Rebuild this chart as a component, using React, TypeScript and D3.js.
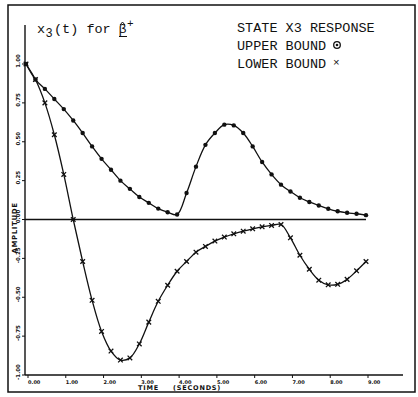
import React from 'react';
import * as d3 from 'd3';

// time steps (seconds) and the two bound responses
const times = d3.range(0, 9.001, 0.25);
const upperBound = [
	1.0, 0.9, 0.84, 0.775, 0.71, 0.637, 0.556, 0.47, 0.39, 0.32, 0.25, 0.197, 0.145,
	0.107, 0.07, 0.047, 0.032, 0.17, 0.34, 0.48, 0.556, 0.61, 0.605, 0.556, 0.47,
	0.37, 0.29, 0.224, 0.18, 0.14, 0.113, 0.09, 0.069, 0.053, 0.043, 0.037, 0.028
];
const lowerBound = [
	1.0, 0.9, 0.75, 0.545, 0.29, 0.0, -0.27, -0.52, -0.72, -0.846, -0.904, -0.89,
	-0.8, -0.66, -0.526, -0.423, -0.333, -0.27, -0.21, -0.173, -0.139, -0.113,
	-0.092, -0.075, -0.06, -0.047, -0.038, -0.032, -0.118, -0.23, -0.32, -0.39,
	-0.42, -0.417, -0.385, -0.33, -0.27
];
const xTicks = [0, 1, 2, 3, 4, 5, 6, 7, 8, 9];
const yTicks = [1, 0.75, 0.5, 0.25, 0, -0.25, -0.5, -0.75, -1];
const legendLines = ['STATE X3 RESPONSE', 'UPPER BOUND', 'LOWER BOUND'];

const W = 418;
const H = 397;
const mono = '"Liberation Mono", "DejaVu Sans Mono", monospace';
const tiny = '"DejaVu Sans", sans-serif';

const App = () => {
	const x = d3.scaleLinear().domain([0, 9]).range([26, 366]);
	const y = d3.scaleLinear().domain([-1, 1]).range([375, 64]);
	const line = d3.line<number>()
		.x((d, i) => x(times[i]))
		.y((d) => y(d))
		.curve(d3.curveCatmullRom.alpha(0.5));

	return (
		<svg width={ W } height={ H } style={ { position: 'absolute', left: 0, top: 0, background: '#fff' } }>
			<rect x={ 8 } y={ 5 } width={ 407 } height={ 387 } fill="none" stroke="#111" strokeWidth={ 1.5 }/>

			{/* axes */}
			<line x1={ 25 } x2={ 25 } y1={ 25 } y2={ 375 } stroke="#111" strokeWidth={ 1.4 }/>
			<line x1={ 25 } x2={ 403 } y1={ 375 } y2={ 375 } stroke="#111" strokeWidth={ 1.4 }/>
			<line x1={ 25 } x2={ x(9) } y1={ y(0) } y2={ y(0) } stroke="#111" strokeWidth={ 1.4 }/>

			{ xTicks.map((t) => (
				<g key={ 'xt' + t }>
					<line x1={ x(t) + 2 } x2={ x(t) + 2 } y1={ 375 } y2={ 378 } stroke="#111" strokeWidth={ 1 }/>
					<text x={ x(t) + 2 } y={ 384 } fontFamily={ tiny } fontWeight="bold" fontSize={ 5 } fill="#111">
						{ t.toFixed(2) }
					</text>
				</g>
			)) }
			{ yTicks.map((v) => (
				<g key={ 'yt' + v }>
					<line x1={ 22 } x2={ 25 } y1={ y(v) } y2={ y(v) } stroke="#111" strokeWidth={ 1 }/>
					<text transform={ `translate(20,${ y(v) - 3 }) rotate(-90)` } textAnchor="middle"
						fontFamily={ tiny } fontWeight="bold" fontSize={ 5.5 } fill="#111">
						{ v.toFixed(2) }
					</text>
				</g>
			)) }

			<text transform="translate(17,228) rotate(-90)" textAnchor="middle" fontFamily={ tiny }
				fontWeight="bold" fontSize={ 7 } letterSpacing={ 0.6 } fill="#111">AMPLITUDE</text>
			<text y={ 389.5 } fontFamily={ tiny } fontWeight="bold" fontSize={ 6.5 } letterSpacing={ 0.8 } fill="#111">
				<tspan x={ 138 }>TIME</tspan>
				<tspan x={ 173 }>(SECONDS)</tspan>
			</text>

			{/* curves */}
			<path d={ line(upperBound) || '' } fill="none" stroke="#111" strokeWidth={ 1.3 }/>
			<path d={ line(lowerBound) || '' } fill="none" stroke="#111" strokeWidth={ 1.3 }/>
			{ upperBound.map((v, i) => (
				<circle key={ 'u' + i } cx={ x(times[i]) } cy={ y(v) } r={ 2.2 } fill="#111"/>
			)) }
			{ lowerBound.map((v, i) => {
				const cx = x(times[i]);
				const cy = y(v);
				const s = 2.3;
				return (
					<path key={ 'l' + i } d={ `M${ cx - s },${ cy - s }L${ cx + s },${ cy + s }M${ cx - s },${ cy + s }L${ cx + s },${ cy - s }` }
						stroke="#111" strokeWidth={ 1.3 }/>
				);
			}) }

			{/* title */}
			<text y={ 33 } fontFamily={ mono } fontSize={ 13.5 } fill="#111">
				<tspan x={ 37 }>x</tspan>
				<tspan x={ 45.5 } dy={ 4 } fontSize={ 12 }>3</tspan>
				<tspan x={ 54 } dy={ -4 }>(t) for</tspan>
				<tspan x={ 118.5 }>β</tspan>
				<tspan x={ 127 } dy={ -6 } fontSize={ 11 }>+</tspan>
			</text>
			<path d="M120,25 L122.5,22 L125,25" fill="none" stroke="#111" strokeWidth={ 1 }/>
			<line x1={ 119 } x2={ 127 } y1={ 36.5 } y2={ 36.5 } stroke="#111" strokeWidth={ 1 }/>

			{/* legend */}
			{ legendLines.map((s, i) => (
				<text key={ s } x={ 237 } y={ 31.5 + i * 18 } fontFamily={ mono } fontSize={ 13.5 } fill="#111">{ s }</text>
			)) }
			<circle cx={ 337 } cy={ 45 } r={ 3.3 } fill="none" stroke="#111" strokeWidth={ 1.3 }/>
			<circle cx={ 337 } cy={ 45 } r={ 1.3 } fill="#111"/>
			<text x={ 333 } y={ 66 } fontFamily={ mono } fontSize={ 11 } fill="#111">×</text>
		</svg>
	);
};

export default App;
